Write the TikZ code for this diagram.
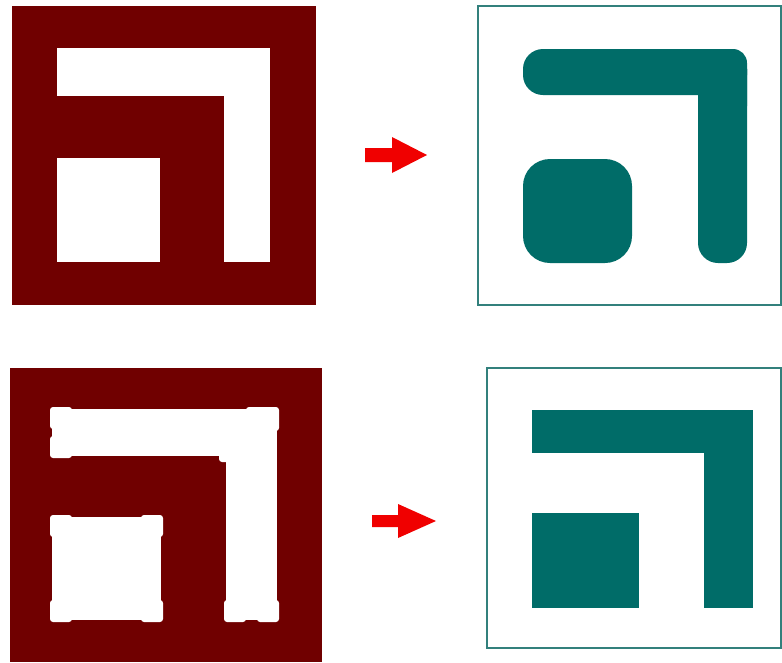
\documentclass[tikz,border=0pt]{standalone}
\usetikzlibrary{calc}
\definecolor{maroon}{RGB}{112,0,0}
\definecolor{tealfill}{RGB}{0,108,104}
\definecolor{tealline}{RGB}{50,128,124}
\definecolor{arrowred}{RGB}{240,0,0}
\tikzset{
  darkpanel/.style={fill=maroon},
  framepanel/.style={draw=tealline,line width=1.6pt},
  tealshape/.style={fill=tealfill},
  holeshape/.style={fill=white},
  redarrow/.style={fill=arrowred},
}
\newcommand{\blob}[2]{\fill[holeshape,rounded corners=3pt] (#1) rectangle (#2);}
\begin{document}
\begin{tikzpicture}[x=1pt,y=-1pt]
\useasboundingbox (0,0) rectangle (782,662);
\fill[white] (0,0) rectangle (782,662);
% ---------- top left ----------
\fill[darkpanel] (12,6) rectangle (316,305);
\fill[holeshape] (57,48) rectangle (270,96);
\fill[holeshape] (224,48) rectangle (270,262);
\fill[holeshape] (57,158) rectangle (160,262);
% ---------- top arrow ----------
\fill[redarrow] (365,148) -- (392,148) -- (392,137) -- (427,155) -- (392,173) -- (392,162) -- (365,162) -- cycle;
% ---------- top right ----------
\draw[framepanel] (478,6) -- (781,6) -- (781,305) -- (478,305) -- cycle;
\fill[tealshape,rounded corners=20pt] (523,49) rectangle (747,95);
\fill[tealshape,rounded corners=20pt] (698,49) rectangle (747,263);
\fill[tealshape,rounded corners=14pt] (698,49) rectangle (747,120);
\fill[tealshape,rounded corners=27pt] (523,159) rectangle (632,263);
% ---------- bottom left ----------
\fill[darkpanel] (10,368) rectangle (322,662);
\fill[holeshape] (52,409) rectangle (277,456);
\fill[holeshape] (226,409) rectangle (277,620);
\fill[holeshape] (52,517) rectangle (161,620);
% blobs on the L
\blob{50,407}{72,429}
\blob{50,436}{72,458}
\blob{246,407}{279,431}
\blob{219,452}{230,462}
\blob{224,600}{246,622}
\blob{257,600}{279,622}
% blobs on the square
\blob{50,515}{72,537}
\blob{141,515}{163,537}
\blob{50,600}{72,622}
\blob{141,600}{163,622}
% ---------- bottom arrow ----------
\fill[redarrow] (372,515) -- (398,515) -- (398,504) -- (436,521) -- (398,538) -- (398,527) -- (372,527) -- cycle;
% ---------- bottom right ----------
\draw[framepanel] (487,368) -- (781,368) -- (781,648) -- (487,648) -- cycle;
\fill[tealshape] (532,410) rectangle (753,453);
\fill[tealshape] (704,410) rectangle (753,608);
\fill[tealshape] (532,513) rectangle (639,608);
\end{tikzpicture}
\end{document}
